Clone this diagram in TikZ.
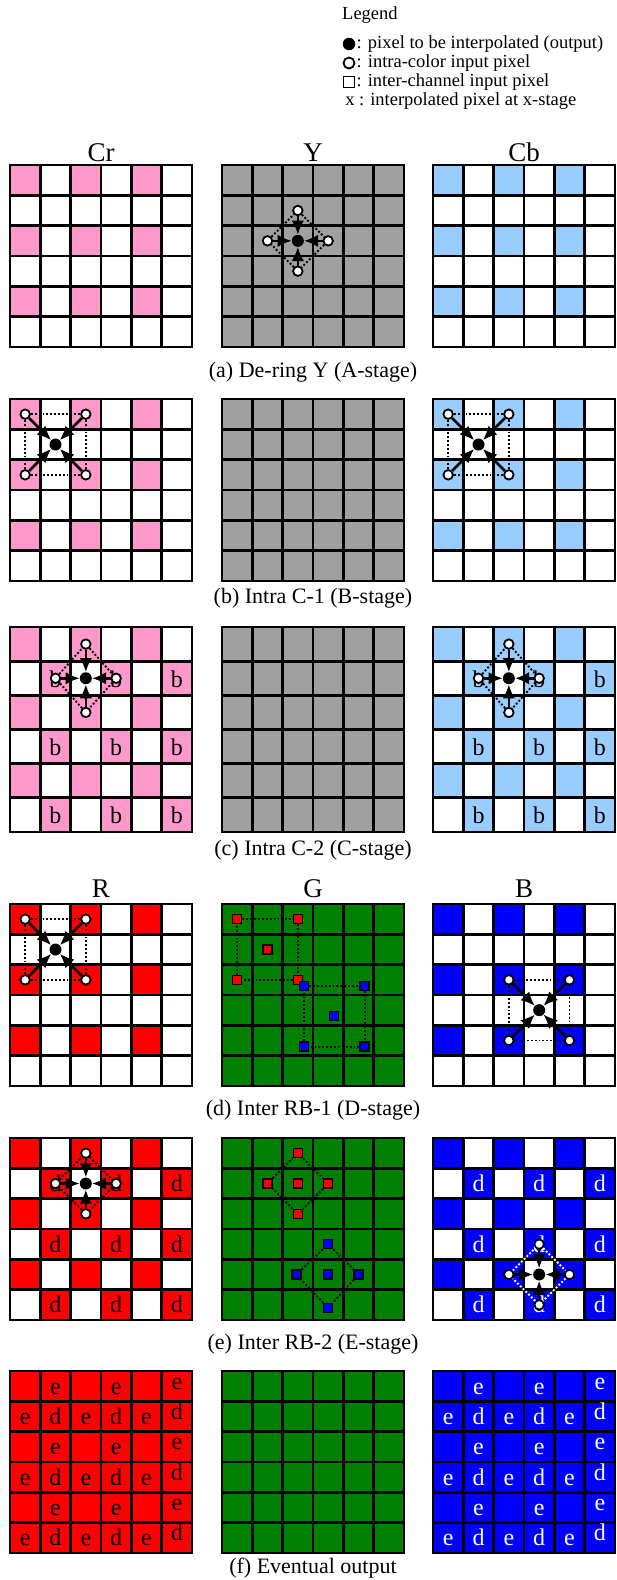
\documentclass[tikz,border=0pt]{standalone}
\usepackage{fontspec}
\setmainfont{Liberation Serif}
\usepackage{xcolor}
\usepackage{tikz}
\usetikzlibrary{calc, arrows.meta, positioning}

\definecolor{crpink}{RGB}{255,153,204}
\definecolor{cbblue}{RGB}{153,204,255}
\definecolor{ygray}{RGB}{160,160,160}
\definecolor{rred}{RGB}{255,0,0}
\definecolor{ggreen}{RGB}{0,128,0}
\definecolor{bblue}{RGB}{0,0,255}

\def\cs{30.333}

\tikzset{
  cells/.style 2 args={shift={(#1,#2)}, x=\cs pt, y=-\cs pt},
  gridline/.style={line width=2.8pt, line cap=rect},
  ipix/.style={circle, draw, fill=white, line width=1.8pt, inner sep=0pt, minimum size=9.5pt},
  opix/.style={circle, fill=black, inner sep=0pt, minimum size=12pt},
  cpix/.style={rectangle, draw, line width=1.5pt, inner sep=0pt, minimum size=9pt},
  arr/.style={->, line width=2.6pt},
  dotl/.style={dotted, line width=1.9pt},
  ttl/.style={font=\fontsize{27}{30}\selectfont, anchor=base, inner sep=0pt},
  captxt/.style={font=\fontsize{22}{26}\selectfont, anchor=base, inner sep=0pt},
  lgd/.style={font=\fontsize{18.5}{21}\selectfont, inner sep=0pt, anchor=west},
  lbl/.style={font=\fontsize{24}{28}\selectfont, inner sep=0pt, anchor=base}
}

% 6x6 pixel grid: colour, pattern (0 full, 1 sparse, 2 checker)
\newcommand{\pixgrid}[2]{%
  \foreach \r in {0,...,5}{
    \foreach \c in {0,...,5}{
      \pgfmathtruncatemacro{\on}{#2==0 ? 1 : (#2==1 ? iseven(\r)*iseven(\c) : iseven(\r+\c))}
      \ifnum\on=1 \fill[#1] (\c,\r) rectangle ++(1,1);\fi
    }
  }
  \foreach \i in {0,...,6}{
    \draw[gridline] (\i,0) -- (\i,6);
    \draw[gridline] (0,\i) -- (6,\i);
  }
}

% letters on odd rows / odd columns: name, letter, text colour
\newcommand{\oddlabels}[3]{%
  \foreach \r in {1,3,5}{
    \foreach \c in {1,3,5}{
      \node[lbl, text=#3] (#1\r\c) at (\c+.5,\r+.76) {#2};
    }
  }
}

% letters of the eventual output: name, text colour
\newcommand{\outlabels}[2]{%
  \foreach \r in {0,...,5}{
    \foreach \c in {0,...,5}{
      \pgfmathtruncatemacro{\kind}{iseven(\r) ? isodd(\c) : 1+isodd(\c)}
      \pgfmathsetmacro{\ys}{\c==5 ? 5 : 0}
      \ifcase\kind
      \or \node[lbl, text=#2, yshift=\ys pt] (#1\r\c) at (\c+.5,\r+.76) {e};
      \or \node[lbl, text=#2, yshift=\ys pt] (#1\r\c) at (\c+.5,\r+.76) {d};
      \fi
    }
  }
}

% four neighbours in a cross: name, col, row, colour of dotted line
\newcommand{\plusarr}[4]{%
  \node[opix] (#1o) at (#2,#3) {};
  \node[ipix] (#1n) at (#2,#3-1) {};
  \node[ipix] (#1e) at (#2+1,#3) {};
  \node[ipix] (#1s) at (#2,#3+1) {};
  \node[ipix] (#1w) at (#2-1,#3) {};
  \draw[dotl, #4] (#1n) -- (#1e) -- (#1s) -- (#1w) -- (#1n);
  \foreach \k in {n,e,s,w} \draw[arr] (#1\k) -- (#1o);
}

% four neighbours on the diagonals: name, col, row
\newcommand{\diagarr}[3]{%
  \node[opix] (#1o) at (#2,#3) {};
  \node[ipix] (#1a) at (#2-1,#3-1) {};
  \node[ipix] (#1b) at (#2+1,#3-1) {};
  \node[ipix] (#1c) at (#2+1,#3+1) {};
  \node[ipix] (#1d) at (#2-1,#3+1) {};
  \draw[dotl] (#1a) -- (#1b) -- (#1c) -- (#1d) -- (#1a);
  \foreach \k in {a,b,c,d} \draw[arr] (#1\k) -- (#1o);
}

\begin{document}
\begin{tikzpicture}[x=1pt, y=-1pt, >={Latex[length=14pt, width=12.5pt]}]
  \useasboundingbox (0,0) rectangle (616,1580);

  % Legend
  \node[lgd] (leg) at (342,15) {Legend};
  \node[opix, minimum size=12.5pt] (lg1) at (349,44) {};
  \node[lgd, right=1pt of lg1] (lt1) {: pixel to be interpolated (output)};
  \node[ipix, minimum size=11pt] (lg2) at (349,63) {};
  \node[lgd, right=1pt of lg2] (lt2) {: intra-color input pixel};
  \node[cpix, minimum size=11pt, line width=1.7pt] (lg3) at (349,82) {};
  \node[lgd, right=1pt of lg3] (lt3) {: inter-channel input pixel};
  \node[lgd, anchor=center] (lg4) at (350,101) {x};
  \node[lgd, right=4pt of lg4] (lt4) {: interpolated pixel at x-stage};

  % Column titles
  \node[ttl] (tcr) at (101,161) {Cr};
  \node[ttl] (ty) at (313,161) {Y};
  \node[ttl] (tcb) at (524,161) {Cb};
  \node[ttl] (tr) at (101,897) {R};
  \node[ttl] (tg) at (313,897) {G};
  \node[ttl] (tb) at (524,897) {B};

  % (a) De-ring Y
  \begin{scope}[cells={10}{165}]
    \pixgrid{crpink}{1}
  \end{scope}
  \begin{scope}[cells={222}{165}]
    \pixgrid{ygray}{0}
    \plusarr{ya}{2.5}{2.5}{black}
  \end{scope}
  \begin{scope}[cells={433}{165}]
    \pixgrid{cbblue}{1}
  \end{scope}
  \node[captxt] (capa) at (313,377) {(a) De-ring Y (A-stage)};

  % (b) Intra C-1
  \begin{scope}[cells={10}{399}]
    \pixgrid{crpink}{1}
    \diagarr{crb}{1.5}{1.5}
  \end{scope}
  \begin{scope}[cells={222}{399}]
    \pixgrid{ygray}{0}
  \end{scope}
  \begin{scope}[cells={433}{399}]
    \pixgrid{cbblue}{1}
    \diagarr{cbb}{1.5}{1.5}
  \end{scope}
  \node[captxt] (capb) at (313,603) {(b) Intra C-1 (B-stage)};

  % (c) Intra C-2 (taller cells)
  \begin{scope}[cells={10}{627}, y=-34.17pt]
    \pixgrid{crpink}{2}
    \oddlabels{crl}{b}{black}
    \plusarr{crc}{2.5}{1.5}{black}
  \end{scope}
  \begin{scope}[cells={222}{627}, y=-34.17pt]
    \pixgrid{ygray}{0}
  \end{scope}
  \begin{scope}[cells={433}{627}, y=-34.17pt]
    \pixgrid{cbblue}{2}
    \oddlabels{cbl}{b}{black}
    \plusarr{cbc}{2.5}{1.5}{black}
  \end{scope}
  \node[captxt] (capc) at (313,855) {(c) Intra C-2 (C-stage)};

  % (d) Inter RB-1
  \begin{scope}[cells={10}{904}]
    \pixgrid{rred}{1}
    \diagarr{rd}{1.5}{1.5}
  \end{scope}
  \begin{scope}[cells={222}{904}]
    \pixgrid{ggreen}{0}
    \node[cpix, fill=rred] (dgr1) at (.5,.5) {};
    \node[cpix, fill=rred] (dgr2) at (2.5,.5) {};
    \node[cpix, fill=rred] (dgr3) at (2.5,2.5) {};
    \node[cpix, fill=rred] (dgr4) at (.5,2.5) {};
    \node[cpix, fill=rred] (dgr0) at (1.5,1.5) {};
    \draw[dotl] (dgr1) -- (dgr2) -- (dgr3) -- (dgr4) -- (dgr1);
    \node[cpix, fill=bblue] (dgb1) at (2.7,2.7) {};
    \node[cpix, fill=bblue] (dgb2) at (4.7,2.7) {};
    \node[cpix, fill=bblue] (dgb3) at (4.7,4.7) {};
    \node[cpix, fill=bblue] (dgb4) at (2.7,4.7) {};
    \node[cpix, fill=bblue] (dgb0) at (3.7,3.7) {};
    \draw[dotl] (dgb1) -- (dgb2) -- (dgb3) -- (dgb4) -- (dgb1);
  \end{scope}
  \begin{scope}[cells={433}{904}]
    \pixgrid{bblue}{1}
    \diagarr{bd}{3.5}{3.5}
  \end{scope}
  \node[captxt] (capd) at (313,1115) {(d) Inter RB-1 (D-stage)};

  % (e) Inter RB-2
  \begin{scope}[cells={10}{1138}]
    \pixgrid{rred}{2}
    \oddlabels{rl}{d}{black}
    \plusarr{re}{2.5}{1.5}{black}
  \end{scope}
  \begin{scope}[cells={222}{1138}]
    \pixgrid{ggreen}{0}
    \node[cpix, fill=rred] (egr1) at (2.5,.5) {};
    \node[cpix, fill=rred] (egr2) at (3.5,1.5) {};
    \node[cpix, fill=rred] (egr3) at (2.5,2.5) {};
    \node[cpix, fill=rred] (egr4) at (1.5,1.5) {};
    \node[cpix, fill=rred] (egr0) at (2.5,1.5) {};
    \draw[dotl] (egr1) -- (egr2) -- (egr3) -- (egr4) -- (egr1);
    \node[cpix, fill=bblue] (egb1) at (3.5,3.5) {};
    \node[cpix, fill=bblue] (egb2) at (4.5,4.5) {};
    \node[cpix, fill=bblue] (egb3) at (3.5,5.6) {};
    \node[cpix, fill=bblue] (egb4) at (2.45,4.5) {};
    \node[cpix, fill=bblue] (egb0) at (3.5,4.5) {};
    \draw[dotl] (egb1) -- (egb2) -- (egb3) -- (egb4) -- (egb1);
  \end{scope}
  \begin{scope}[cells={433}{1138}]
    \pixgrid{bblue}{2}
    \oddlabels{bl}{d}{white}
    \plusarr{be}{3.5}{4.5}{white}
  \end{scope}
  \node[captxt] (cape) at (313,1349) {(e) Inter RB-2 (E-stage)};

  % (f) Eventual output
  \begin{scope}[cells={10}{1371}]
    \pixgrid{rred}{0}
    \outlabels{rf}{black}
  \end{scope}
  \begin{scope}[cells={222}{1371}]
    \pixgrid{ggreen}{0}
  \end{scope}
  \begin{scope}[cells={433}{1371}]
    \pixgrid{bblue}{0}
    \outlabels{bf}{white}
  \end{scope}
  \node[captxt] (capf) at (313,1573) {(f) Eventual output};
\end{tikzpicture}
\end{document}
